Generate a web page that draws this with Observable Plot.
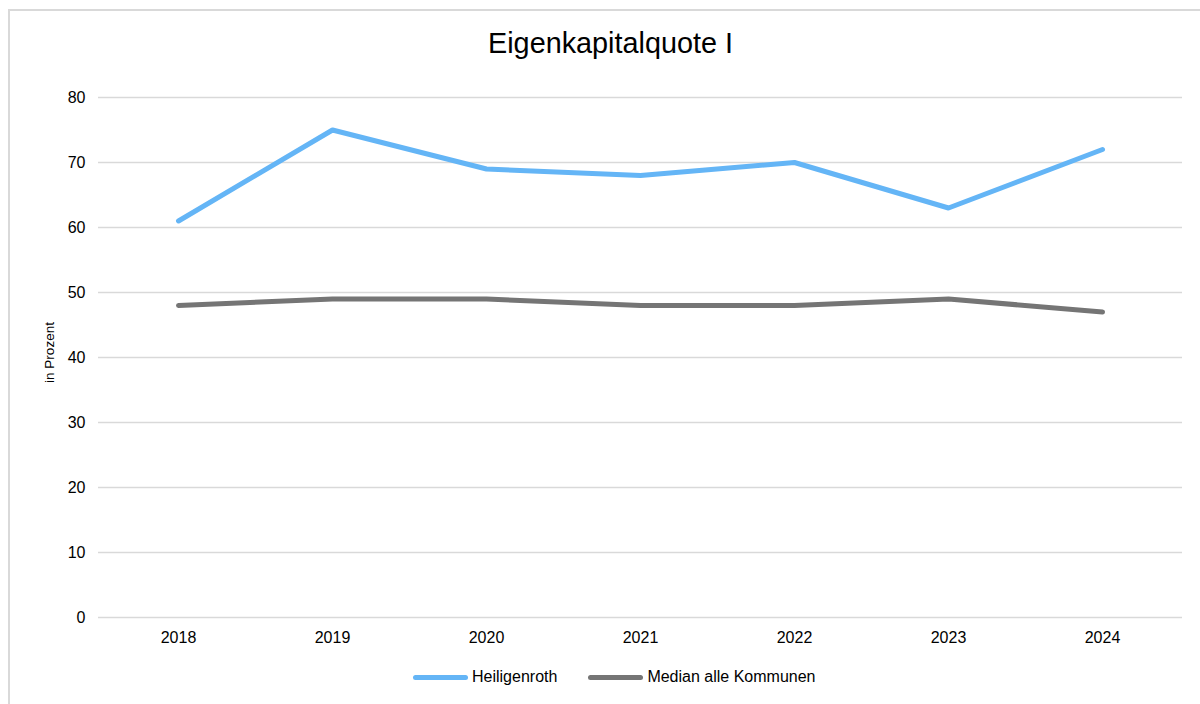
<!DOCTYPE html>
<html>
<head>
<meta charset="utf-8">
<script src="https://cdn.jsdelivr.net/npm/d3@7"></script>
<script src="https://cdn.jsdelivr.net/npm/@observablehq/plot@0.6"></script>
<style>
  html, body { margin: 0; padding: 0; background: #fff; }
  body { width: 1200px; height: 704px; position: relative; overflow: hidden; font-family: "Liberation Sans", Arial, sans-serif; }
  #frame { position: absolute; left: 8px; top: 9px; width: 1200px; height: 720px; border: 2px solid #d9d9d9; box-sizing: border-box; }
  #title { position: absolute; left: 0; width: 1221px; top: 27px; text-align: center; font-size: 28.8px; color: #000; }
  #chart { position: absolute; left: 0; top: 0; }
  #legend { position: absolute; top: 668px; left: 413px; display: flex; align-items: center; font-size: 16px; color: #000; }
  .item { display: flex; align-items: center; margin-right: 31px; }
  .sw { width: 55px; height: 5px; border-radius: 3px; margin-right: 4px; }
</style>
</head>
<body>
<div id="frame"></div>
<div id="chart"></div>
<div id="title">Eigenkapitalquote I</div>
<div id="legend"></div>
<script>
const years = ["2018", "2019", "2020", "2021", "2022", "2023", "2024"];
const seriesNames = ["Heiligenroth", "Median alle Kommunen"];
const heiligenroth = [61, 75, 69, 68, 70, 63, 72];
const median = [48, 49, 49, 48, 48, 49, 47];
const yTicks = [0, 10, 20, 30, 40, 50, 60, 70, 80];
const colors = ["#64b5f6", "#757575"];

const data = [
  ...years.map((y, i) => ({year: y, value: heiligenroth[i], series: seriesNames[0]})),
  ...years.map((y, i) => ({year: y, value: median[i], series: seriesNames[1]}))
];

const plot = Plot.plot({
  width: 1200,
  height: 704,
  marginLeft: 98,
  marginRight: 18,
  marginTop: 97,
  marginBottom: 87,
  style: {fontFamily: "'Liberation Sans', Arial, sans-serif", fontSize: "16px", color: "#000", background: "transparent"},
  x: {type: "point", domain: years, padding: 0.5, label: null},
  y: {domain: [0, 80], ticks: yTicks, label: null},
  color: {domain: seriesNames, range: colors},
  marks: [
    Plot.ruleY(yTicks, {stroke: "#d9d9d9", strokeWidth: 1.6}),
    Plot.axisY({ticks: yTicks, tickSize: 0, tickPadding: 13, fontSize: 16, label: null}),
    Plot.axisX({tickSize: 0, tickPadding: 14, fontSize: 16, label: null}),
    Plot.line(data, {x: "year", y: "value", z: "series", stroke: "series", strokeWidth: 5, strokeLinecap: "round", strokeLinejoin: "round"}),
    Plot.text(["in Prozent"], {frameAnchor: "left", textAnchor: "middle", dx: -49, dy: -5, rotate: -90, fontSize: 13.5, text: d => d, fill: "#000"})
  ]
});
document.getElementById("chart").appendChild(plot);

const legend = document.getElementById("legend");
seriesNames.forEach((name, i) => {
  const item = document.createElement("div");
  item.className = "item";
  const sw = document.createElement("div");
  sw.className = "sw";
  sw.style.background = colors[i];
  const label = document.createElement("span");
  label.textContent = name;
  item.appendChild(sw);
  item.appendChild(label);
  legend.appendChild(item);
});
</script>
</body>
</html>
